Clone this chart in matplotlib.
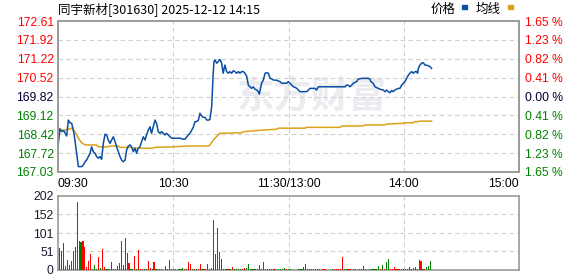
import matplotlib
matplotlib.use("Agg")
import matplotlib.pyplot as plt
from matplotlib.patches import Rectangle

plt.rcParams['font.family'] = ['Liberation Sans', 'Noto Sans CJK SC', 'DejaVu Sans']

# ---- data ----
title = '同宇新材[301630] 2025-12-12 14:15'
prev_close = 169.82
price_ticks = [167.03, 167.72, 168.42, 169.12, 169.82, 170.52, 171.22, 171.92, 172.61]
pct_labels = ['1.65 %', '1.23 %', '0.82 %', '0.41 %', '0.00 %', '0.41 %', '0.82 %', '1.23 %', '1.65 %']
time_ticks = [0, 60, 120, 180, 240]
time_labels = ['09:30', '10:30', '11:30/13:00', '14:00', '15:00']
vol_ticks = [0, 51, 101, 152, 202]

price_t = [0, 1, 2, 3, 4.5, 5.4, 6.2, 7.1, 8, 8.8, 9.7, 10.6, 12.3, 13.2, 14.1, 14.9, 15.8,
           16.7, 17.5, 18.4, 19.3, 20.1, 21, 21.9, 22.7, 23.6, 24.5, 25.3, 26.2, 27.1, 27.9,
           28.8, 29.7, 30.5, 31.4, 32.3, 33.1, 34, 34.9, 35.7, 36.6, 37.5, 38.3, 39.2, 40.1,
           40.9, 41.8, 42.7, 43.5, 44.4, 45.3, 46.1, 47, 47.9, 48.7, 49.6, 50.5, 51.3, 52.2,
           53.1, 53.9, 54.8, 55.7, 56.5, 57.4, 58.3, 59.2, 60, 61.8, 63.5, 65.2, 66.1, 67,
           67.9, 68.7, 69.6, 70.4, 71.3, 72.2, 73.1, 73.9, 74.8, 75.6, 76.5, 77.4, 78.3, 79.1,
           80, 80.8, 81.2, 81.7, 82.6, 83.4, 84.3, 85.2, 86, 86.9, 87.8, 88.7, 89.5, 90.4,
           91.3, 92.1, 93, 93.9, 94.7, 95.6, 96.5, 97.3, 98.2, 99.1, 99.9, 100.8, 101.7, 102.5,
           103.4, 104.3, 104.8, 106, 106.9, 107.8, 108.6, 109.5, 110.4, 111.2, 112.1, 113.8,
           115.6, 116.4, 118.2, 119, 119.9, 120.8, 121.7, 122.5, 123.4, 124.3, 125.1, 126,
           129.5, 131.2, 133.8, 134.7, 135.5, 149.4, 150.3, 151.1, 152, 152.9, 153.7, 155.5,
           156.3, 158.1, 161.5, 162.4, 162.9, 164.1, 165, 166.7, 167.6, 169.3, 170.2, 171.1,
           171.9, 172.8, 173.7, 174.5, 175.4, 176.3, 177.1, 178, 178.9, 179.8, 180.6, 181.5,
           182.4, 183.2, 184.1, 185, 185.9, 186.7, 187.2, 187.6, 188.4, 189.3, 190.2, 191,
           191.9, 192.8, 193.6, 194.5]
price = [167.96, 168.62, 168.52, 168.56, 168.36, 168.95, 168.85, 168.83, 168.58, 168.21, 167.72,
         167.23, 167.23, 167.29, 167.41, 167.47, 167.60, 167.72, 167.96, 167.78, 167.72, 167.60,
         167.54, 167.60, 167.50, 168.09, 168.43, 168.40, 168.21, 168.09, 168.21, 168.33, 168.15,
         167.96, 167.78, 167.60, 167.47, 167.41, 167.47, 167.84, 167.99, 168.03, 167.96, 167.78,
         167.91, 167.72, 167.91, 167.96, 168.15, 168.33, 168.21, 168.40, 168.58, 168.70, 168.46,
         168.70, 168.95, 168.83, 168.52, 168.46, 168.52, 168.46, 168.40, 168.46, 168.40, 168.33,
         168.28, 168.28, 168.28, 168.28, 168.24, 168.24, 168.33, 168.40, 168.46, 168.58, 168.68,
         168.89, 168.89, 168.95, 169.20, 169.10, 169.05, 169.05, 168.95, 168.95, 168.97, 169.44,
         170.68, 171.11, 171.17, 171.05, 171.11, 171.19, 171.05, 170.68, 170.98, 170.74, 170.68,
         170.74, 170.68, 170.77, 170.74, 170.68, 170.74, 170.68, 170.74, 170.74, 170.68, 170.58,
         170.24, 170.18, 170.12, 170.18, 170.09, 170.06, 170.00, 169.91, 170.31, 170.43, 170.68,
         170.70, 170.68, 170.49, 170.47, 170.43, 170.42, 170.37, 170.31, 170.31, 170.31, 170.37,
         170.31, 170.24, 170.18, 170.16, 170.12, 170.06, 170.00, 170.00, 170.12, 170.12, 170.06,
         170.18, 170.18, 170.24, 170.24, 170.18, 170.24, 170.31, 170.37, 170.46, 170.49, 170.49,
         170.46, 170.37, 170.31, 170.18, 170.12, 170.09, 170.06, 170.00, 170.06, 170.00, 169.96,
         170.04, 170.00, 170.06, 170.09, 170.12, 170.12, 170.24, 170.31, 170.37, 170.49, 170.61,
         170.68, 170.74, 170.68, 170.74, 170.74, 170.68, 170.86, 170.98, 171.05, 171.07, 170.98,
         170.98, 170.95, 170.93, 170.86]

avg_t = [0.5, 2, 4, 5.4, 7.1, 8, 8.8, 9.7, 10.6, 11.5, 12.3, 14.1, 20, 21, 26.2, 27.1, 31.4,
         32.3, 38, 39.2, 49, 50.5, 60, 67.9, 78.3, 79.1, 80.8, 83.4, 84.3, 95.6, 96.5, 106.9,
         113.8, 114.7, 128.6, 129.5, 146.8, 147.7, 158.9, 159.8, 170.2, 171.1, 179.8, 180.6,
         185, 185.9, 187.6, 188.4, 194.5]
avg = [168.65, 168.58, 168.58, 168.61, 168.65, 168.58, 168.52, 168.40, 168.28, 168.19, 168.11,
       168.03, 168.03, 167.96, 167.96, 167.99, 167.99, 167.94, 167.94, 167.91, 167.91, 167.94,
       167.96, 167.99, 167.99, 168.03, 168.21, 168.40, 168.46, 168.48, 168.52, 168.58, 168.61,
       168.65, 168.65, 168.68, 168.68, 168.73, 168.73, 168.77, 168.77, 168.80, 168.83, 168.85,
       168.85, 168.89, 168.89, 168.91, 168.91]

volume = [0, 59, 52, 73, 11, 27, 14, 25, 52, 63,
          186, 79, 76, 79, 63, 8, 25, 44, 3, 14,
          3, 35, 5, 57, 8, 3, 3, 3, 22, 3,
          3, 11, 19, 79, 14, 87, 46, 19, 3, 3,
          38, 3, 55, 3, 3, 3, 3, 25, 5, 3,
          22, 3, 3, 3, 3, 0, 11, 3, 27, 3,
          3, 3, 0, 3, 3, 5, 3, 3, 22, 16,
          3, 3, 3, 3, 16, 3, 3, 3, 16, 3,
          5, 137, 44, 115, 49, 30, 3, 3, 3, 3,
          3, 8, 3, 3, 3, 3, 3, 5, 5, 16,
          3, 3, 3, 3, 3, 14, 3, 22, 3, 3,
          3, 3, 3, 3, 0, 3, 3, 3, 5, 3,
          3, 3, 0, 0, 0, 3, 3, 3, 8, 16,
          3, 3, 3, 3, 3, 3, 3, 0, 3, 3,
          0, 0, 0, 3, 3, 3, 3, 3, 35, 3,
          3, 3, 3, 0, 3, 3, 0, 3, 3, 11,
          3, 0, 3, 3, 3, 3, 3, 11, 3, 14,
          3, 22, 30, 3, 3, 8, 3, 3, 3, 3,
          3, 3, 3, 8, 3, 5, 8, 3, 27, 25,
          3, 3, 8, 11, 25]
vol_dir = ("gggggrgrgg" "grgrrrrrgg" "grgrrgggrr" "gggggrrrgg" "rgrrrggrrg"
           "rgggggrgrr" "ggggggrgrr" "grgrrgrrrr" "rrggrggggr" "grggggrrgg"
           "ggggggrgrr" "rrrrgggggr" "gggggggggr" "grrrrrrgrr" "ggggrrrrrg"
           "grrgrrgrrg" "rgrgggggrg" "rggrrrrrrr" "rrrrgrrgrr" "grggg")

RED, GREEN, BLUE, GOLD = '#ff0000', '#008000', '#0a4fa3', '#dca11a'
FRAME, GRID = '#9a9a9a', '#cfcfcf'

fig = plt.figure(figsize=(5.78, 2.76), dpi=100)
W, H = 578, 276
ax = fig.add_axes([58 / W, 1 - 172 / H, 461 / W, 151 / H])
axv = fig.add_axes([58 / W, 1 - 270 / H, 461 / W, 74 / H])

# ---- price panel ----
ax.set_xlim(0, 240)
ax.set_ylim(price_ticks[0], price_ticks[-1])
ax.text(132, 169.80, '东方财富', fontsize=27, fontweight='bold', color='#ebebf0',
        family=['Noto Sans CJK SC'], ha='center', va='center', zorder=0)
ax.plot(avg_t, avg, color=GOLD, lw=1.1, zorder=3)
ax.plot(price_t, price, color=BLUE, lw=1.1, zorder=4)

ax.set_yticks(price_ticks)
ax.set_yticklabels([f'{v:.2f}' for v in price_ticks], fontsize=8.7)
ax.set_xticks(time_ticks)
ax.set_xticklabels(time_labels, fontsize=8.7)
ax.tick_params(length=0, pad=4)
ax.tick_params(axis='y', pad=3)
labs = ax.get_xticklabels()
labs[0].set_ha('left')
labs[-1].set_ha('right')
for v, lab in zip(price_ticks, ax.get_yticklabels()):
    lab.set_color(RED if v > prev_close else GREEN if v < prev_close else '#000033')

ax2 = ax.twinx()
ax2.set_ylim(ax.get_ylim())
ax2.set_yticks(price_ticks)
ax2.set_yticklabels(pct_labels[::-1], fontsize=8.7)
ax2.tick_params(length=0, pad=4)
for v, lab in zip(price_ticks, ax2.get_yticklabels()):
    lab.set_color(RED if v > prev_close else GREEN if v < prev_close else '#000033')

for y in price_ticks[1:-1]:
    ax.axhline(y, color=GRID, lw=0.8, ls=(0, (4, 3)), zorder=1)
for x in time_ticks[1:-1]:
    ax.axvline(x, color=GRID, lw=0.8, ls=(0, (4, 3)), zorder=1)
for a in (ax, ax2):
    for s in a.spines.values():
        s.set_color(FRAME)
        s.set_linewidth(1.2)

# ---- volume panel ----
axv.set_xlim(0, 240)
axv.set_ylim(0, 202)
axv.bar(range(len(volume)), volume, width=0.6, antialiased=False,
        color=[RED if c == 'r' else GREEN for c in vol_dir], zorder=3)
axv.set_yticks(vol_ticks)
axv.set_yticklabels([str(v) for v in vol_ticks], fontsize=8.7, color='#1a1a2e')
axv.set_xticks([])
axv.tick_params(length=0, pad=3)
for y in vol_ticks[1:-1]:
    axv.axhline(y, color=GRID, lw=0.8, ls=(0, (4, 3)), zorder=1)
for x in time_ticks[1:-1]:
    axv.axvline(x, color=GRID, lw=0.8, ls=(0, (4, 3)), zorder=1)
for s in axv.spines.values():
    s.set_color(FRAME)
    s.set_linewidth(1.2)

# ---- title and legend ----
fig.text(58 / W, 1 - 9 / H, title, fontsize=9, family=['Noto Sans CJK SC'], va='center')
fig.text(431 / W, 1 - 9 / H, '价格', fontsize=9, family=['Noto Sans CJK SC'], va='center')
fig.text(476 / W, 1 - 9 / H, '均线', fontsize=9, family=['Noto Sans CJK SC'], va='center')
fig.add_artist(Rectangle((462 / W, 1 - 9 / H), 5 / W, 4 / H, color=BLUE, transform=fig.transFigure))
fig.add_artist(Rectangle((508 / W, 1 - 9 / H), 5 / W, 4 / H, color=GOLD, transform=fig.transFigure))

fig.savefig('out.png', dpi=100)
